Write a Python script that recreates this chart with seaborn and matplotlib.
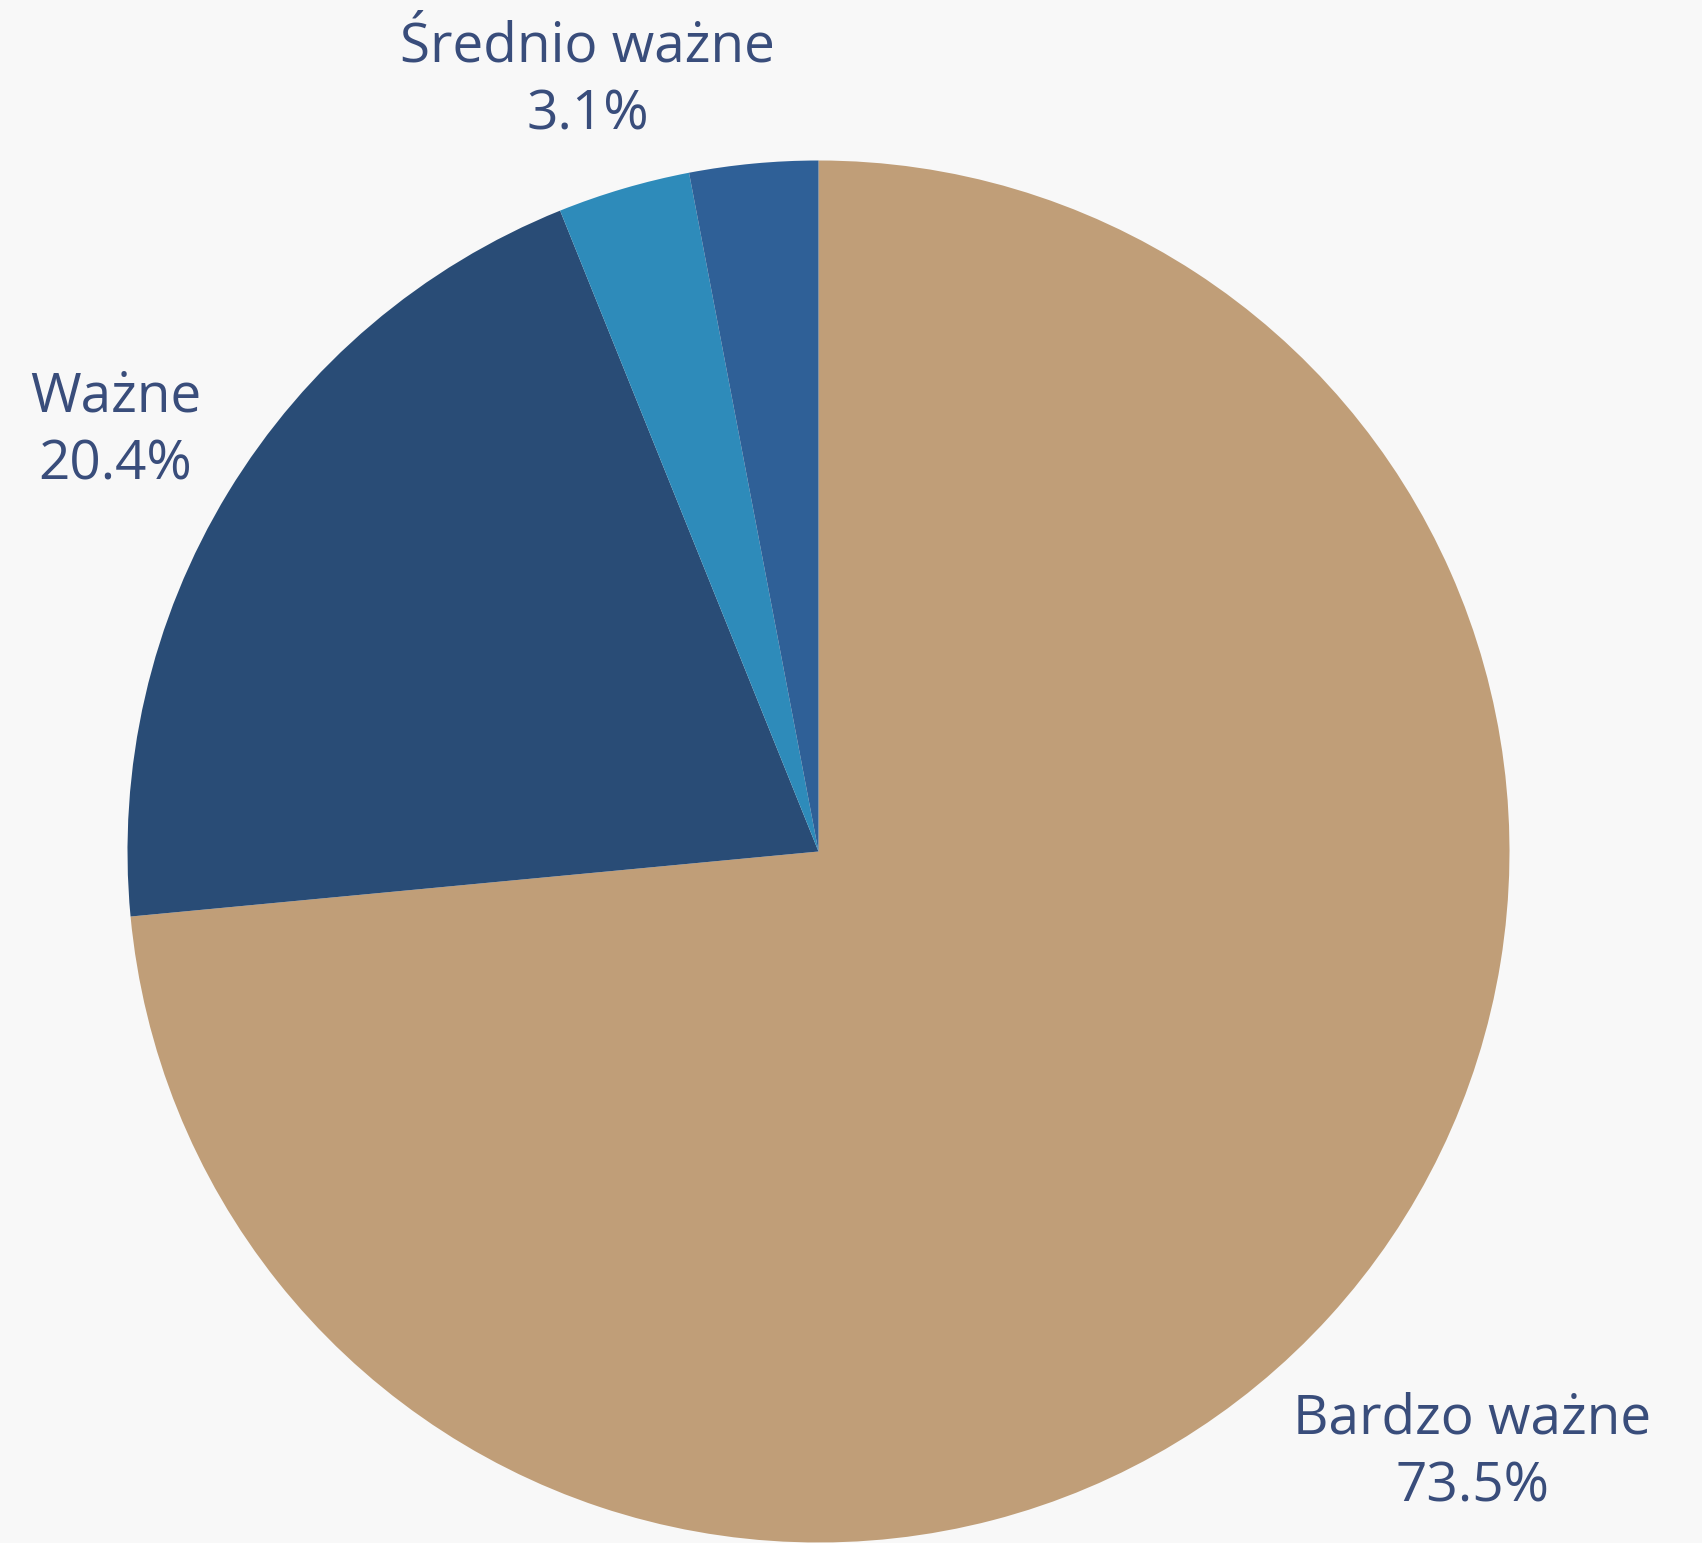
import numpy as np
import matplotlib
matplotlib.use("Agg")
import matplotlib.pyplot as plt
import seaborn as sns

# Survey answers, shares in percent (clockwise from 12 o'clock)
categories = ["Bardzo ważne", "Ważne", "Średnio ważne", "Mało ważne"]
shares = [73.5, 20.4, 3.1, 3.0]
show_label = [True, True, True, False]

slice_colors = ["#c09e78", "#294c76", "#2e8bba", "#2f6097"]
text_color = "#394d7b"
bg = "#f8f8f8"

sns.set_theme(style="white")
plt.rcParams["font.family"] = ["Open Sans", "DejaVu Sans"]

W, H = 1702, 1543
fig = plt.figure(figsize=(W / 100, H / 100), dpi=100, facecolor=bg)

# pie centre and radius in pixels
cx, cy, R = 818.5, 851.5, 691
ax = fig.add_axes([(cx - R) / W, (H - cy - R) / H, 2 * R / W, 2 * R / H])
ax.set_facecolor(bg)

wedges, _ = ax.pie(
    shares,
    colors=slice_colors,
    startangle=90,
    counterclock=False,
    radius=1.0,
    wedgeprops=dict(linewidth=0),
)
ax.set_xlim(-1, 1)
ax.set_ylim(-1, 1)
ax.set_aspect("auto")
ax.axis("off")

# label placement: distance from centre (in radii) and small angle nudge (deg)
placement = {
    "Bardzo ważne": (1.30, -1.0),
    "Ważne": (1.175, 1.3),
    "Średnio ważne": (1.144, 0.6),
}

label_size = 39.5
half_gap_pt = 34 * 72 / 100  # half the baseline-to-baseline distance
for w, name, val, show in zip(wedges, categories, shares, show_label):
    if not show:
        continue
    dist, nudge = placement[name]
    mid = np.deg2rad((w.theta1 + w.theta2) / 2 + nudge)
    xy = (dist * np.cos(mid), dist * np.sin(mid))
    ax.annotate(name, xy=xy, xytext=(0, half_gap_pt), textcoords="offset points",
                ha="center", va="baseline", fontsize=label_size, color=text_color,
                annotation_clip=False)
    ax.annotate(f"{val:.1f}%", xy=xy, xytext=(0, -half_gap_pt), textcoords="offset points",
                ha="center", va="baseline", fontsize=label_size, color=text_color,
                annotation_clip=False)

fig.savefig("out.png", dpi=100, facecolor=bg)
